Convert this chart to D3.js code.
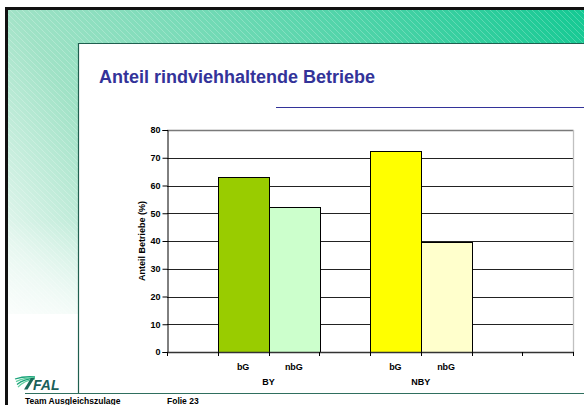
<!DOCTYPE html>
<html>
<head>
<meta charset="utf-8">
<script src="https://cdn.jsdelivr.net/npm/d3@7"></script>
<style>
  html, body { margin: 0; padding: 0; background: #fff; }
  svg { display: block; font-family: "Liberation Sans", Arial, sans-serif; }
</style>
</head>
<body>
<div id="chart"></div>
<script>
// data
var groups = ["BY", "NBY"];
var subLabels = ["bG", "nbG"];
var valuesBY = [63, 52.3];
var valuesNBY = [72.4, 39.6];
var yTicks = [0, 10, 20, 30, 40, 50, 60, 70, 80];
var title = "Anteil rindviehhaltende Betriebe";
var yTitle = "Anteil Betriebe (%)";

var width = 584, height = 405;

// 8 category slots like the excel axis: empty, bG, nbG, empty, bG, nbG, empty, empty
var slots = [
  {label: "", group: null},
  {label: subLabels[0], group: groups[0], value: valuesBY[0], color: "#99cc00"},
  {label: subLabels[1], group: groups[0], value: valuesBY[1], color: "#ccffcc"},
  {label: "", group: null},
  {label: subLabels[0], group: groups[1], value: valuesNBY[0], color: "#ffff00"},
  {label: subLabels[1], group: groups[1], value: valuesNBY[1], color: "#ffffcc"},
  {label: "", group: null},
  {label: "", group: null}
];

var svg = d3.select("#chart").append("svg")
  .attr("width", width)
  .attr("height", height);

var defs = svg.append("defs");
var grad = defs.append("linearGradient")
  .attr("id", "bg")
  .attr("gradientUnits", "userSpaceOnUse")
  .attr("x1", 584).attr("y1", 8)
  .attr("x2", 7).attr("y2", 380);
grad.append("stop").attr("offset", "0%").attr("stop-color", "#14c993");
grad.append("stop").attr("offset", "70%").attr("stop-color", "#a0e2c6");
grad.append("stop").attr("offset", "88%").attr("stop-color", "#e0f5ec");
grad.append("stop").attr("offset", "100%").attr("stop-color", "#fafdfb");

var fade = defs.append("linearGradient")
  .attr("id", "fade")
  .attr("x1", 0).attr("y1", 0).attr("x2", 0).attr("y2", 1);
fade.append("stop").attr("offset", "0%").attr("stop-color", "#fff").attr("stop-opacity", 0);
fade.append("stop").attr("offset", "100%").attr("stop-color", "#fff").attr("stop-opacity", 0.7);

var hatch = defs.append("pattern")
  .attr("id", "hatch")
  .attr("patternUnits", "userSpaceOnUse")
  .attr("width", 6).attr("height", 6);
hatch.append("path")
  .attr("d", "M-1,-1 L7,7 M-1,5 L1,7 M5,-1 L7,1")
  .attr("stroke", "#ffffff")
  .attr("stroke-opacity", 0.22)
  .attr("stroke-width", 1);

// slide background
svg.append("rect").attr("x", 0).attr("y", 0).attr("width", width).attr("height", height).attr("fill", "#fff");
svg.append("rect").attr("x", 7).attr("y", 8).attr("width", width - 7).attr("height", 306).attr("fill", "url(#bg)");
svg.append("rect").attr("x", 7).attr("y", 8).attr("width", width - 7).attr("height", 306).attr("fill", "url(#hatch)");
svg.append("rect").attr("x", 7).attr("y", 220).attr("width", 72).attr("height", 94).attr("fill", "url(#fade)");

// black outer frame
svg.append("path")
  .attr("d", "M6.5," + height + " L6.5,8.5 L" + width + ",8.5")
  .attr("fill", "none").attr("stroke", "#111").attr("stroke-width", 3);

// white panel
svg.append("rect").attr("x", 78).attr("y", 43).attr("width", width - 78).attr("height", 350).attr("fill", "#fff");
svg.append("path")
  .attr("d", "M78.5,393 L78.5,43.5 L" + width + ",43.5")
  .attr("fill", "none").attr("stroke", "#1f5f4f").attr("stroke-width", 1.2);
svg.append("line")
  .attr("x1", 25).attr("x2", width).attr("y1", 393.5).attr("y2", 393.5)
  .attr("stroke", "#2f6f5f").attr("stroke-width", 1.2);

// title
svg.append("text")
  .attr("x", 99).attr("y", 83)
  .attr("fill", "#333399")
  .attr("font-size", 18).attr("font-weight", "bold")
  .text(title);
svg.append("line")
  .attr("x1", 276).attr("x2", width).attr("y1", 107.5).attr("y2", 107.5)
  .attr("stroke", "#333399").attr("stroke-width", 1);

// chart
var plot = {left: 167, right: 573, top: 130, bottom: 352};

var x = d3.scaleBand()
  .domain(d3.range(slots.length))
  .range([plot.left, plot.right])
  .padding(0);

var y = d3.scaleLinear()
  .domain([0, 80])
  .range([plot.bottom, plot.top]);

var g = svg.append("g");

// gridlines
g.selectAll("line.grid")
  .data(yTicks.filter(function(d) { return d > 0 && d < 80; }))
  .enter().append("line")
  .attr("class", "grid")
  .attr("x1", plot.left).attr("x2", plot.right)
  .attr("y1", function(d) { return Math.round(y(d)) + 0.5; })
  .attr("y2", function(d) { return Math.round(y(d)) + 0.5; })
  .attr("stroke", "#222").attr("stroke-width", 1);

// plot area border (top and right)
g.append("path")
  .attr("d", "M" + plot.left + "," + (plot.top + 0.5) + " L" + (plot.right + 0.5) + "," + (plot.top + 0.5))
  .attr("stroke", "#7a7a7a").attr("stroke-width", 1.3).attr("fill", "none");
g.append("line")
  .attr("x1", plot.right + 0.5).attr("x2", plot.right + 0.5)
  .attr("y1", plot.top).attr("y2", plot.bottom)
  .attr("stroke", "#c0c0c0").attr("stroke-width", 1.3);

// bars
g.selectAll("rect.bar")
  .data(slots.map(function(s, i) { return Object.assign({i: i}, s); }).filter(function(s) { return s.group; }))
  .enter().append("rect")
  .attr("class", "bar")
  .attr("x", function(d) { return Math.round(x(d.i)) + 0.5; })
  .attr("width", function(d) { return Math.round(x.bandwidth()); })
  .attr("y", function(d) { return Math.round(y(d.value)) + 0.5; })
  .attr("height", function(d) { return Math.round(y(0)) - Math.round(y(d.value)); })
  .attr("fill", function(d) { return d.color; })
  .attr("stroke", "#000").attr("stroke-width", 1);

// y axis
var yAxis = d3.axisLeft(y).tickValues(yTicks).tickSize(5).tickPadding(2);
var ya = svg.append("g")
  .attr("transform", "translate(" + (plot.left + 0.5) + ",0)")
  .call(yAxis);
ya.select(".domain").attr("stroke", "#000");
ya.selectAll(".tick line").attr("stroke", "#000");
ya.selectAll(".tick text")
  .attr("font-family", "Liberation Sans, Arial, sans-serif")
  .attr("font-size", 9).attr("font-weight", "bold").attr("fill", "#000");

// x axis line and ticks at slot boundaries
var bounds = d3.range(slots.length + 1).map(function(i) {
  return i < slots.length ? x(i) : plot.right;
});
svg.append("line")
  .attr("x1", plot.left).attr("x2", plot.right + 1)
  .attr("y1", plot.bottom + 0.5).attr("y2", plot.bottom + 0.5)
  .attr("stroke", "#333").attr("stroke-width", 1.5);
svg.selectAll("line.xtick")
  .data(bounds)
  .enter().append("line")
  .attr("class", "xtick")
  .attr("x1", function(d) { return Math.round(d) + 0.5; })
  .attr("x2", function(d) { return Math.round(d) + 0.5; })
  .attr("y1", plot.bottom).attr("y2", plot.bottom + 4)
  .attr("stroke", "#000");

// sub labels
svg.selectAll("text.sub")
  .data(slots.map(function(s, i) { return {i: i, label: s.label}; }).filter(function(s) { return s.label; }))
  .enter().append("text")
  .attr("class", "sub")
  .attr("x", function(d) { return x(d.i) + x.bandwidth() / 2; })
  .attr("y", 369.5)
  .attr("text-anchor", "middle")
  .attr("font-size", 9).attr("font-weight", "bold")
  .text(function(d) { return d.label; });

// group labels
svg.selectAll("text.grp")
  .data(groups)
  .enter().append("text")
  .attr("class", "grp")
  .attr("x", function(gName) {
    var idx = slots.map(function(s, i) { return s.group === gName ? i : -1; }).filter(function(i) { return i >= 0; });
    return (x(idx[0]) + x(idx[idx.length - 1]) + x.bandwidth()) / 2;
  })
  .attr("y", 384.5)
  .attr("text-anchor", "middle")
  .attr("font-size", 9).attr("font-weight", "bold")
  .text(function(d) { return d; });

// y title
svg.append("text")
  .attr("transform", "translate(145," + ((plot.top + plot.bottom) / 2) + ") rotate(-90)")
  .attr("text-anchor", "middle")
  .attr("font-size", 9).attr("font-weight", "bold")
  .text(yTitle);

// FAL logo
var logo = svg.append("g").attr("transform", "translate(14,376)");
[0, 3, 6, 9].forEach(function(off, k) {
  logo.append("path")
    .attr("d", "M" + (1 + k) + "," + (3 + off * 0.9) + " Q" + (10) + "," + (0 + off * 0.5) + " 21," + (1 + off * 0.2))
    .attr("fill", "none")
    .attr("stroke", k % 2 ? "#5fcf9f" : "#1aa37a")
    .attr("stroke-width", 1.3);
});
logo.append("path")
  .attr("d", "M10,13.5 L17,2 L20.5,2 L13.5,13.5 Z")
  .attr("fill", "#1a6a5a");
logo.append("text")
  .attr("x", 19).attr("y", 13.5)
  .attr("font-size", 14).attr("font-weight", "bold").attr("font-style", "italic")
  .attr("fill", "#1a5f5a")
  .text("FAL");

// footer (cut by the slide edge, as in the original)
svg.append("text")
  .attr("x", 25).attr("y", 404)
  .attr("font-size", 8.5).attr("font-weight", "bold")
  .text("Team Ausgleichszulage");
svg.append("text")
  .attr("x", 167).attr("y", 404)
  .attr("font-size", 8.5).attr("font-weight", "bold")
  .text("Folie 23");
</script>
</body>
</html>
